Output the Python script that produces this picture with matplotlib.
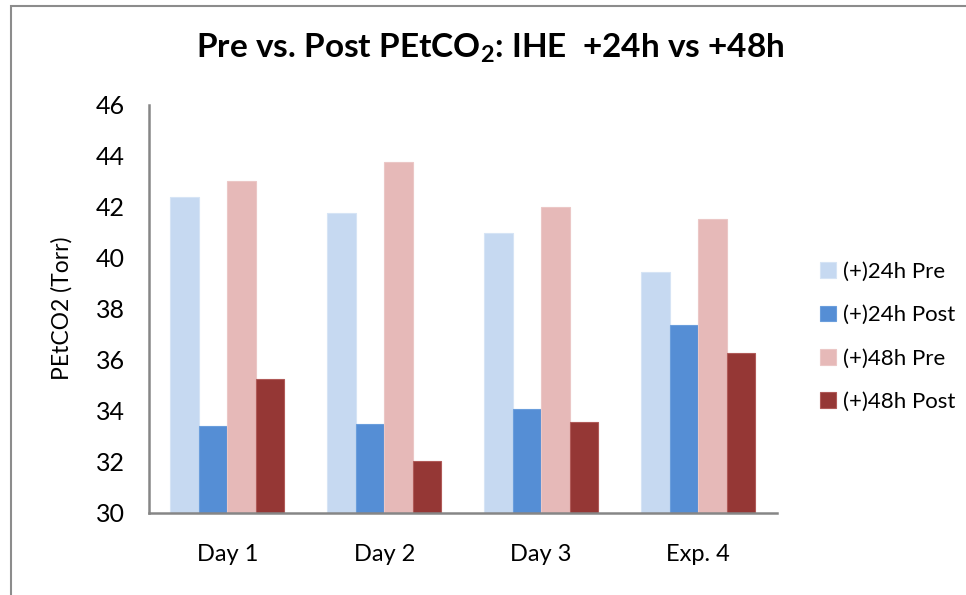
import matplotlib
matplotlib.use("Agg")
import matplotlib.pyplot as plt
import numpy as np
from matplotlib.patches import Rectangle

categories = ["Day 1", "Day 2", "Day 3", "Exp. 4"]
series_names = ["(+)24h Pre", "(+)24h Post", "(+)48h Pre", "(+)48h Post"]
pre24 = [42.40, 41.76, 40.99, 39.43]
post24 = [33.40, 33.47, 34.05, 37.35]
pre48 = [43.03, 43.75, 41.98, 41.52]
post48 = [35.25, 32.01, 33.54, 36.25]
colors = ["#C6D9F1", "#558ED5", "#E6B9B8", "#953735"]
edges = ["#D6E4F5", "#6A9EDC", "#EBC7C6", "#B05A58"]
yticks = [30, 32, 34, 36, 38, 40, 42, 44, 46]

plt.rcParams['font.family'] = ['Lato', 'DejaVu Sans']
plt.rcParams['mathtext.fontset'] = 'custom'
plt.rcParams['mathtext.rm'] = 'Lato:bold'
plt.rcParams['mathtext.default'] = 'rm'

fig = plt.figure(figsize=(9.66, 5.95), dpi=100)
ax = fig.add_axes([148.7/966, 1-512.5/595, (776.7-148.7)/966, (512.5-105)/595])

x = np.arange(len(categories))
w = 0.182
data = [pre24, post24, pre48, post48]
for i, (vals, c, e, name) in enumerate(zip(data, colors, edges, series_names)):
    ax.bar(x + (i - 1.5) * w, np.array(vals) - 30, bottom=30, width=w, color=c,
           edgecolor=e, linewidth=0.8, label=name)

ax.set_xlim(-0.5, len(categories) - 0.5)
ax.set_ylim(30, 46)
ax.set_yticks(yticks)
ax.set_yticklabels([str(t) for t in yticks], fontsize=18)
ax.set_xticks(x)
ax.set_xticklabels(categories, fontsize=17)
ax.tick_params(axis='both', length=0, colors='black')
ax.tick_params(axis='y', pad=17)
ax.tick_params(axis='x', pad=23)
for s in ['top', 'right']:
    ax.spines[s].set_visible(False)
for s in ['left', 'bottom']:
    ax.spines[s].set_color('#868686')
    ax.spines[s].set_linewidth(1.8)

ax.set_ylabel("PEtCO2 (Torr)", fontsize=16.5, labelpad=17)

fig.text(490/966, 1-48/595, r"Pre vs. Post PEtCO$_2$: IHE  +24h vs +48h",
         ha='center', va='center', fontsize=24, fontweight='bold')

handles, labels = ax.get_legend_handles_labels()
leg = fig.legend(handles, labels, loc='center left', bbox_to_anchor=(800/966, 1-337/595),
                 frameon=False, fontsize=16, handlelength=0.7, handleheight=0.7,
                 handletextpad=0.35, labelspacing=1.05)

fig.patches.append(Rectangle((11/966, -0.1), 1.2, 1 - 6/595 + 0.1, transform=fig.transFigure,
                             fill=False, edgecolor='#8C8C8C', linewidth=1.5))

fig.savefig("out.png", dpi=100, facecolor='white')
